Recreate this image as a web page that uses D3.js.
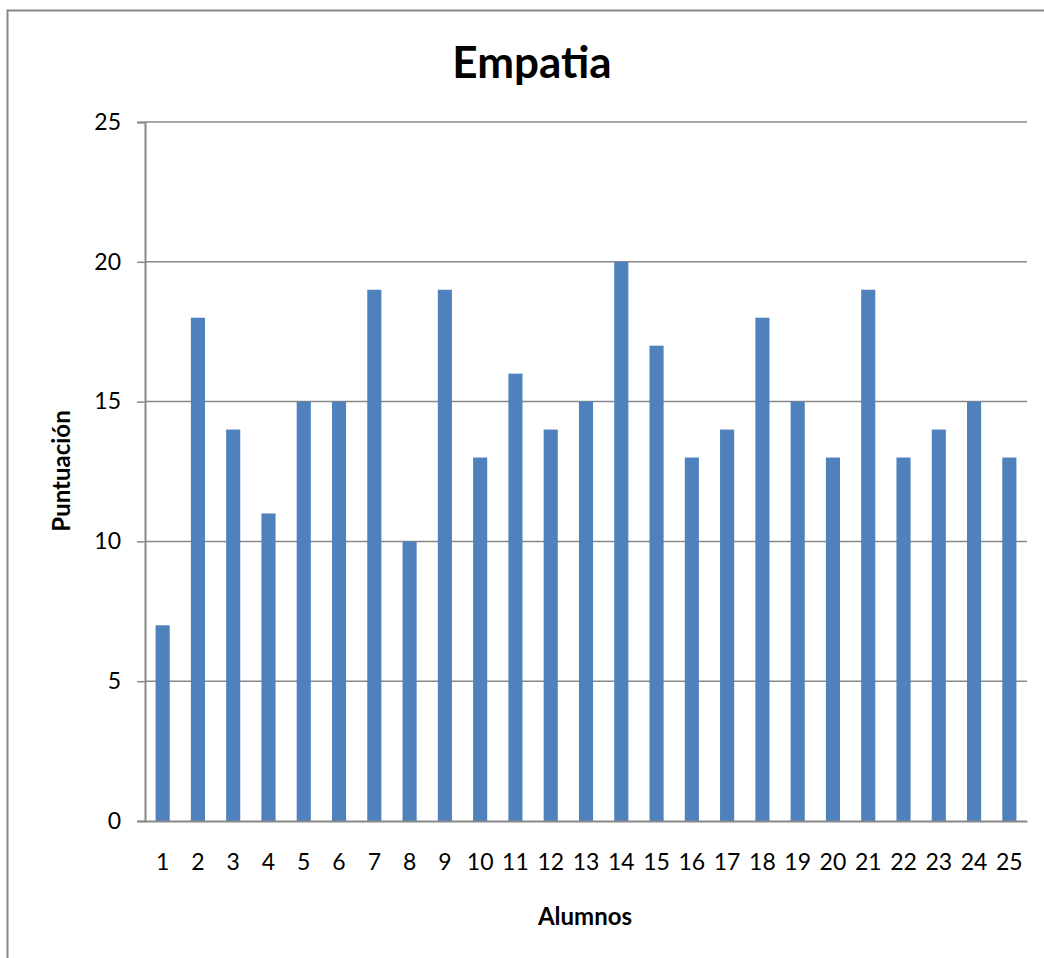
<!DOCTYPE html>
<html lang="es">
<head>
<meta charset="UTF-8">
<title>Empatia</title>
<script src="https://d3js.org/d3.v7.min.js"></script>
<style>
  body { margin: 0; background: #fff; }
  svg { display: block; font-family: Lato, "Open Sans", sans-serif; }
</style>
</head>
<body>
<svg id="chart" width="1044" height="958"></svg>
<script>
const alumnos = d3.range(1, 26).map(String);
const puntuacion = [7, 18, 14, 11, 15, 15, 19, 10, 19, 13, 16, 14, 15, 20, 17, 13, 14, 18, 15, 13, 19, 13, 14, 15, 13];
const yTicks = [0, 5, 10, 15, 20, 25];

const svg = d3.select("#chart");
const m = { left: 145, right: 1027, top: 122, bottom: 821 };

// marco exterior
svg.append("path")
  .attr("d", "M 7.5 958 L 7.5 10.5 L 1044 10.5")
  .attr("fill", "none")
  .attr("stroke", "#888")
  .attr("stroke-width", 2);

const x = d3.scaleBand()
  .domain(alumnos)
  .range([m.left, m.right])
  .paddingInner(0.6)
  .paddingOuter(0.3);

const y = d3.scaleLinear()
  .domain([0, 25])
  .range([m.bottom, m.top]);

// grid + eje y
const yAxis = svg.append("g")
  .attr("transform", `translate(${m.left},0)`)
  .call(d3.axisLeft(y).tickValues(yTicks).tickSize(8).tickPadding(16));
yAxis.attr("font-family", "Lato, sans-serif");
yAxis.select(".domain").attr("stroke", "#888").attr("stroke-width", 2);
yAxis.selectAll(".tick line").attr("stroke", "#888").attr("stroke-width", 1.5);
yAxis.selectAll(".tick text").attr("font-size", 23).attr("fill", "#000");

svg.append("g")
  .selectAll("line")
  .data(yTicks.filter(d => d > 0))
  .join("line")
  .attr("x1", m.left).attr("x2", m.right)
  .attr("y1", d => y(d)).attr("y2", d => y(d))
  .attr("stroke", "#888").attr("stroke-width", 1.5);

// barras
svg.append("g")
  .selectAll("rect")
  .data(puntuacion)
  .join("rect")
  .attr("x", (d, i) => x(alumnos[i]))
  .attr("y", d => y(d))
  .attr("width", x.bandwidth())
  .attr("height", d => y(0) - y(d))
  .attr("fill", "#4f81bd");

// eje x
const xAxis = svg.append("g")
  .attr("transform", `translate(0,${m.bottom})`)
  .call(d3.axisBottom(x).tickSize(0).tickPadding(33));
xAxis.attr("font-family", "Lato, sans-serif");
xAxis.select(".domain").attr("stroke", "#888").attr("stroke-width", 2);
xAxis.selectAll(".tick text").attr("font-size", 23).attr("fill", "#000");

// títulos
svg.append("text")
  .attr("x", 532).attr("y", 78)
  .attr("text-anchor", "middle")
  .attr("font-size", 44).attr("font-weight", "bold")
  .text("Empatia");

svg.append("text")
  .attr("x", 585).attr("y", 925)
  .attr("text-anchor", "middle")
  .attr("font-size", 24).attr("font-weight", "bold")
  .text("Alumnos");

svg.append("text")
  .attr("transform", "translate(70,471) rotate(-90)")
  .attr("text-anchor", "middle")
  .attr("font-size", 24).attr("font-weight", "bold")
  .text("Puntuación");
</script>
</body>
</html>
